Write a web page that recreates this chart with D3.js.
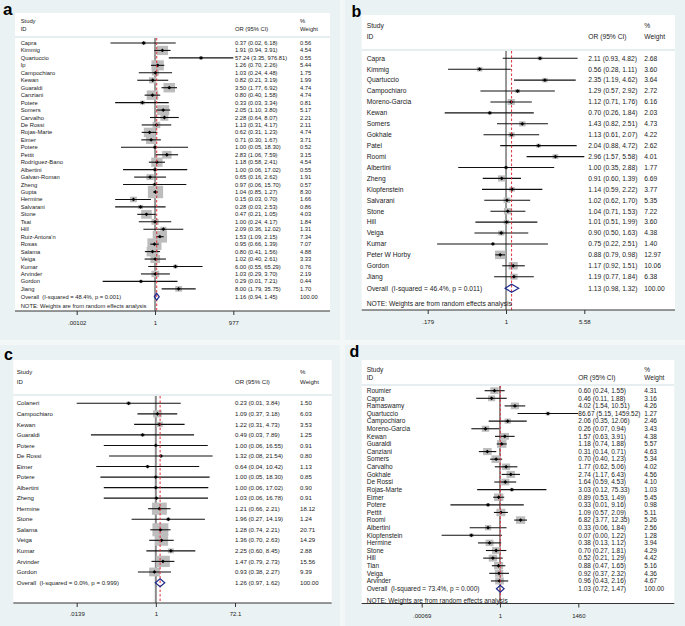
<!DOCTYPE html>
<html><head><meta charset="utf-8">
<script src="https://cdn.jsdelivr.net/npm/d3@7"></script>
<style>
body{margin:0;background:#f4f7f8}
svg{display:block}
text{font-family:"Liberation Sans",Arial,Helvetica,sans-serif;white-space:pre;fill:#1a1a1a}
</style>
</head><body>
<svg id="chart" width="685" height="626"></svg>
<script>
// ---------- Panel a ----------
const studiesA = ["Capra","Kimmig","Quartuccio","Ip","Campochiaro","Kewan","Guaraldi","Canziani","Potere","Somers","Carvalho","De Rossi","Rojas-Marte","Eimer","Potere","Pettit","Rodríguez-Bano","Albertini","Galvan-Roman","Zheng","Gupta","Hermine","Salvarani","Stone","Tsai","Hill","Ruiz-Antora'n","Rosas","Salama","Veiga","Kumar","Arvinder","Gordon","Jiang"];
const orA   = [0.37,1.91,57.24,1.26,1.03,0.82,3.50,0.80,0.33,2.05,2.28,1.13,0.62,0.71,1.00,2.83,1.18,1.00,0.65,0.97,1.04,0.15,0.28,0.47,1.00,2.09,1.53,0.95,0.80,1.02,6.00,1.03,0.29,8.00];
const lowA  = [0.02,0.94,3.35,0.70,0.24,0.21,1.77,0.40,0.03,1.10,0.64,0.31,0.31,0.30,0.05,1.06,0.58,0.06,0.16,0.06,0.85,0.03,0.03,0.21,0.24,0.36,1.09,0.66,0.41,0.40,0.55,0.29,0.01,1.79];
const highA = [6.18,3.91,976.81,2.26,4.48,3.19,6.92,1.58,3.34,3.80,8.07,4.17,1.23,1.67,18.30,7.59,2.41,17.02,2.62,15.70,1.27,0.70,2.53,1.05,4.17,12.02,2.15,1.39,1.56,2.61,65.29,3.70,7.21,35.75];
const weightA = [0.56,4.54,0.55,5.44,1.75,1.99,4.74,4.74,0.81,5.17,2.21,2.11,4.74,3.71,0.52,3.15,4.54,0.55,1.91,0.57,8.30,1.66,0.86,4.03,1.84,1.31,7.34,7.07,4.88,3.33,0.76,2.19,0.44,1.70];
const overallA = [1.16,0.94,1.45];
const hetA = "Overall  (I-squared = 48.4%, p = 0.001)";
const ticksA = [0.00102,1,977];
const tickLabelsA = [".00102","1","977"];

// ---------- Panel b ----------
const studiesB = ["Capra","Kimmig","Quartuccio","Campochiaro","Moreno-Garcia","Kewan","Somers","Gokhale","Patel","Roomi","Albertini","Zheng","Klopfenstein","Salvarani","Stone","Hill","Veiga","Kumar","Peter W Horby","Gordon","Jiang"];
const orB   = [2.11,0.56,2.35,1.29,1.12,0.70,1.43,1.13,2.04,2.96,1.00,0.91,1.14,1.02,1.04,1.01,0.90,0.75,0.88,1.17,1.19];
const lowB  = [0.93,0.28,1.19,0.57,0.71,0.26,0.82,0.61,0.88,1.57,0.35,0.60,0.59,0.62,0.71,0.51,0.50,0.22,0.79,0.92,0.77];
const highB = [4.82,1.11,4.62,2.92,1.76,1.84,2.51,2.07,4.72,5.58,2.88,1.39,2.22,1.70,1.53,1.99,1.63,2.51,0.98,1.51,1.84];
const weightB = [2.68,3.60,3.64,2.72,6.16,2.03,4.73,4.22,2.62,4.01,1.77,6.69,3.77,5.35,7.22,3.60,4.38,1.40,12.97,10.06,6.38];
const overallB = [1.13,0.98,1.32];
const hetB = "Overall  (I-squared = 46.4%, p = 0.011)";
const ticksB = [0.179,1,5.58];
const tickLabelsB = [".179","1","5.58"];

// ---------- Panel c ----------
const studiesC = ["Colaneri","Campochiaro","Kewan","Guaraldi","Potere","De Rossi","Eimer","Potere","Albertini","Zheng","Hermine","Stone","Salama","Veiga","Kumar","Arvinder","Gordon"];
const orC   = [0.23,1.09,1.22,0.49,1.00,1.32,0.64,1.00,1.00,1.03,1.21,1.96,1.28,1.36,2.25,1.47,0.93];
const lowC  = [0.01,0.37,0.31,0.03,0.06,0.08,0.04,0.05,0.06,0.06,0.66,0.27,0.74,0.70,0.60,0.79,0.38];
const highC = [3.84,3.18,4.73,7.89,16.55,21.54,10.42,18.30,17.02,16.78,2.21,14.19,2.21,2.63,8.45,2.73,2.27];
const weightC = [1.50,6.03,3.53,1.25,0.91,0.80,1.13,0.85,0.90,0.91,18.12,1.24,20.71,14.29,2.88,15.56,9.39];
const overallC = [1.26,0.97,1.62];
const hetC = "Overall  (I-squared = 0.0%, p = 0.999)";
const ticksC = [0.0139,1,72.1];
const tickLabelsC = [".0139","1","72.1"];

// ---------- Panel d ----------
const studiesD = ["Roumier","Capra","Ramaswamy","Quartuccio","Campochiaro","Moreno-Garcia","Kewan","Guaraldi","Canziani","Somers","Carvalho","Gokhale","De Rossi","Rojas-Marte","Eimer","Potere","Pettit","Roomi","Albertini","Klopfenstein","Hermine","Stone","Hill","Tian","Veiga","Arvinder"];
const orD   = [0.60,0.46,4.02,86.67,2.06,0.26,1.57,1.18,0.31,0.70,1.77,2.74,1.64,3.03,0.89,0.33,1.09,6.82,0.33,0.07,0.38,0.70,0.52,0.88,0.92,0.96];
const lowD  = [0.24,0.11,1.54,5.15,0.35,0.07,0.63,0.74,0.14,0.40,0.62,1.17,0.59,0.12,0.53,0.01,0.57,3.77,0.06,0.0044,0.13,0.27,0.21,0.47,0.37,0.43];
const highD = [1.55,1.88,10.51,1459.52,12.06,0.94,3.91,1.88,0.71,1.23,5.06,6.43,4.53,75.33,1.49,9.16,2.09,12.35,1.84,1.22,1.12,1.81,1.29,1.65,2.32,2.16];
const weightD = [4.31,3.16,4.26,1.27,2.46,3.43,4.38,5.57,4.63,5.34,4.02,4.56,4.10,1.03,5.45,0.98,5.11,5.26,2.56,1.28,3.94,4.29,4.42,5.16,4.36,4.67];
const overallD = [1.03,0.72,1.47];
const hetD = "Overall  (I-squared = 73.4%, p = 0.000)";
const ticksD = [0.00069,1,1460];
const tickLabelsD = [".00069","1","1460"];

const noteText = "NOTE: Weights are from random effects analysis";

// ---------- layout ----------
const svg = d3.select("#chart");
const fmt = d3.format(".2f");
const BG = "#eaf2f3";

const panels = [
  {letter:"a", lab:[3,14.5], labSize:17, bg:[0,0,340,340], white:[15,13,330,311], sepY:37, hdrY:[20.7,28.5],
   row0:43, dy:7.45, overallY:296.7, noteY:306, axisY:311, tickLabelY:322.5, range:[76.7,233.3],
   colStudy:20.7, colOR:235, colW:300, font:5.8, k:5.3, nullColor:"#333", nullW:1,
   data:{s:studiesA,or:orA,lo:lowA,hi:highA,w:weightA,ov:overallA,het:hetA,ticks:ticksA,tl:tickLabelsA,note:true}},
  {letter:"b", lab:[351.5,16.5], labSize:16, bg:[345,0,340,340], white:[361.7,15,675,310], sepY:50, hdrY:[26,36.7],
   row0:58.3, dy:10.92, overallY:288.3, noteY:303.3, axisY:310, tickLabelY:321.7, range:[427.7,584.3],
   colStudy:366.7, colOR:588.3, colW:644.3, font:6.7, k:2.9, nullColor:"#333", nullW:1,
   data:{s:studiesB,or:orB,lo:lowB,hi:highB,w:weightB,ov:overallB,het:hetB,ticks:ticksB,tl:tickLabelsB,note:true}},
  {letter:"c", lab:[4,360], labSize:16, bg:[0,345,340,281], white:[13.3,360,331.7,603], sepY:395, hdrY:[371.7,381.7],
   row0:403.3, dy:10.54, overallY:582.7, noteY:null, axisY:603, tickLabelY:613.5, range:[76.7,235],
   colStudy:16.7, colOR:235, colW:300, font:6.1, k:3.5, nullColor:"#8a8a8a", nullW:2,
   data:{s:studiesC,or:orC,lo:lowC,hi:highC,w:weightC,ov:overallC,het:hetC,ticks:ticksC,tl:tickLabelsC,note:false}},
  {letter:"d", lab:[349.5,356.5], labSize:16, bg:[345,345,340,281], white:[361.7,360,674.3,603.5], sepY:385, hdrY:[370,377.5],
   row0:390.7, dy:7.61, overallY:588.7, noteY:600.5, axisY:603.5, tickLabelY:615.7, range:[421.7,578.3],
   colStudy:366.7, colOR:578.3, colW:644.3, font:6.5, k:4, nullColor:"#333", nullW:1,
   data:{s:studiesD,or:orD,lo:lowD,hi:highD,w:weightD,ov:overallD,het:hetD,ticks:ticksD,tl:tickLabelsD,note:true}}
];

function drawPanel(P){
  const D = P.data;
  const g = svg.append("g");
  g.append("rect").attr("x",P.bg[0]).attr("y",P.bg[1]).attr("width",P.bg[2]).attr("height",P.bg[3]).attr("fill",BG);
  g.append("text").attr("x",P.lab[0]).attr("y",P.lab[1]).attr("font-size",P.labSize)
    .attr("font-weight","bold").style("fill","#000").text(P.letter);
  const [wx0,wy0,wx1,wy1] = P.white;
  g.append("rect").attr("x",wx0).attr("y",wy0).attr("width",wx1-wx0).attr("height",wy1-wy0).attr("fill","#fff");
  g.append("rect").attr("x",wx0).attr("y",P.sepY-0.8).attr("width",wx1-wx0).attr("height",1.6).attr("fill","#e2eaed");

  const x = d3.scaleLog().domain([D.ticks[0],D.ticks[2]]).range(P.range).clamp(true);
  const y = i => P.row0 + i*P.dy;
  const fs = P.font;

  const txt = (xx,yy,s,anchor) => g.append("text").attr("x",xx).attr("y",yy).attr("dy","0.35em")
      .attr("font-size",fs).attr("text-anchor",anchor||"start").text(s);

  // headers
  txt(P.colStudy,P.hdrY[0],"Study");
  txt(P.colStudy,P.hdrY[1],"ID");
  txt(P.colOR,P.hdrY[1],"OR (95% CI)");
  txt(P.colW,P.hdrY[0],"%");
  txt(P.colW,P.hdrY[1],"Weight");

  const lineTop = P.sepY + 1;
  // null line
  g.append("line").attr("x1",x(1)).attr("x2",x(1)).attr("y1",lineTop).attr("y2",P.axisY)
    .attr("stroke",P.nullColor).attr("stroke-width",P.nullW);

  // rows
  D.s.forEach((name,i)=>{
    const yy = y(i);
    const side = P.k*Math.sqrt(D.w[i]);
    const cx = x(D.or[i]);
    g.append("rect").attr("x",cx-side/2).attr("y",yy-side*0.41).attr("width",side).attr("height",side*0.82)
      .attr("fill","#bdbdbd");
    g.append("line").attr("x1",x(D.lo[i])).attr("x2",x(D.hi[i])).attr("y1",yy).attr("y2",yy)
      .attr("stroke","#111").attr("stroke-width",1.1);
    const r = 1.9;
    g.append("path").attr("d",`M${cx},${yy-r}L${cx+r},${yy}L${cx},${yy+r}L${cx-r},${yy}Z`).attr("fill","#000");
    txt(P.colStudy,yy,name);
    txt(P.colOR,yy,`${fmt(D.or[i])} (${fmt(D.lo[i])}, ${fmt(D.hi[i])})`);
    txt(P.colW,yy,fmt(D.w[i]));
  });

  // overall dashed line
  g.append("line").attr("x1",x(D.ov[0])).attr("x2",x(D.ov[0])).attr("y1",lineTop).attr("y2",P.axisY)
    .attr("stroke","#e0303a").attr("stroke-width",1).attr("stroke-dasharray","2.5,2");

  // overall diamond
  const oy = P.overallY, h = Math.min(P.dy*0.45, 4);
  g.append("path").attr("d",`M${x(D.ov[1])},${oy}L${x(D.ov[0])},${oy-h}L${x(D.ov[2])},${oy}L${x(D.ov[0])},${oy+h}Z`)
    .attr("fill","none").attr("stroke","#1f2a8c").attr("stroke-width",1.2);
  txt(P.colStudy,oy,D.het);
  txt(P.colOR,oy,`${fmt(D.ov[0])} (${fmt(D.ov[1])}, ${fmt(D.ov[2])})`);
  txt(P.colW,oy,"100.00");

  if(D.note) txt(P.colStudy,P.noteY,noteText);

  // axis
  const ax = g.append("g").attr("transform",`translate(0,${P.axisY})`)
    .call(d3.axisBottom(x).tickValues(D.ticks).tickFormat((d,i)=>D.tl[i]).tickSize(4));
  ax.select(".domain").remove();
  ax.selectAll(".tick line").attr("stroke","#333");
  ax.selectAll(".tick text").attr("y",P.tickLabelY-P.axisY).attr("dy","0.35em")
    .attr("font-size",6).attr("font-family",null).style("fill","#1a1a1a");
  g.append("line").attr("x1",wx0).attr("x2",wx1).attr("y1",P.axisY).attr("y2",P.axisY)
    .attr("stroke","#333").attr("stroke-width",1);
}

panels.forEach(drawPanel);
</script>
</body></html>
